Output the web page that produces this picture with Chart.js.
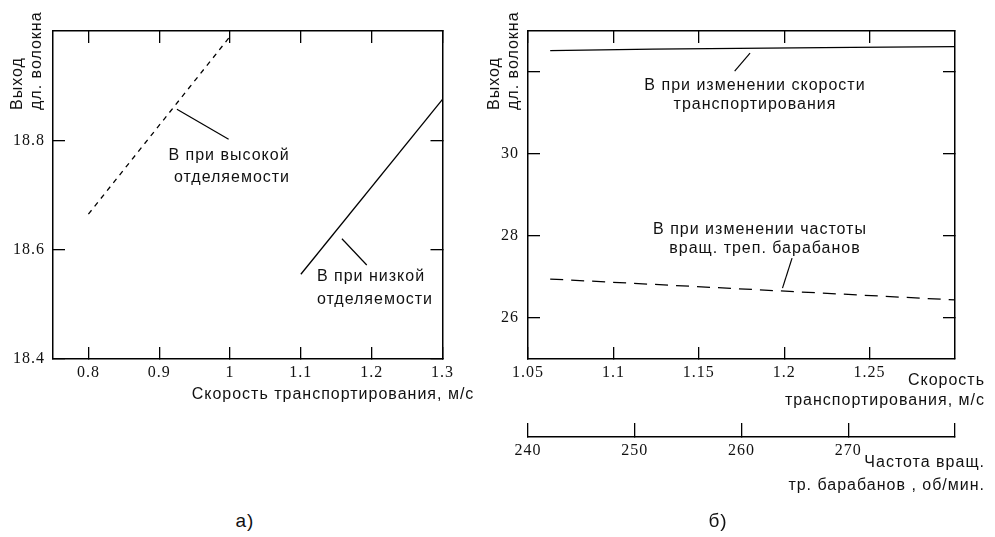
<!DOCTYPE html>
<html>
<head>
<meta charset="utf-8">
<script src="https://cdn.jsdelivr.net/npm/chart.js@4.4.0/dist/chart.umd.min.js"></script>
<style>
  body { margin: 0; background: #fff; }
  #wrap { position: relative; width: 995px; height: 537px; overflow: hidden;
          font-family: "Liberation Sans", Arial, sans-serif; font-size: 16px; color: #111; letter-spacing: 1px; }
  canvas { position: absolute; top: 0; }
  .t { position: absolute; white-space: nowrap; transform: translate(-50%, -50%); line-height: 1; }
  .r { position: absolute; white-space: nowrap; transform: translateY(-50%); line-height: 1; }
  .v { position: absolute; white-space: nowrap; transform-origin: 0 0; transform: rotate(-90deg); line-height: 19px; }
</style>
</head>
<body>
<div id="wrap">
  <canvas id="chartA" width="470" height="400" style="left:0"></canvas>
  <canvas id="chartB" width="525" height="537" style="left:470px"></canvas>

  <!-- а) -->
  <div class="v" style="left:7px;top:110px">Выход<br>дл. волокна</div>
  <div class="t" style="left:229px;top:155px">В при высокой</div>
  <div class="t" style="left:232px;top:177px">отделяемости</div>
  <div class="t" style="left:371px;top:276px">В при низкой</div>
  <div class="t" style="left:375px;top:299px">отделяемости</div>
  <div class="t" style="left:333px;top:394px">Скорость транспортирования, м/с</div>
  <div class="t" style="left:245px;top:520px;font-size:19px">а)</div>

  <!-- б) -->
  <div class="v" style="left:484px;top:110px">Выход<br>дл. волокна</div>
  <div class="t" style="left:755px;top:85px">В при изменении скорости</div>
  <div class="t" style="left:755px;top:104px">транспортирования</div>
  <div class="t" style="left:760px;top:229px">В при изменении частоты</div>
  <div class="t" style="left:765px;top:248px">вращ. треп. барабанов</div>
  <div class="r" style="right:10px;top:380px">Скорость</div>
  <div class="r" style="right:10px;top:400px">транспортирования, м/с</div>
  <div class="r" style="right:10px;top:462px">Частота вращ.</div>
  <div class="r" style="right:10px;top:485px">тр. барабанов , об/мин.</div>
  <div class="t" style="left:718px;top:520px;font-size:19px">б)</div>
</div>

<script>
// а) выход длинного волокна от скорости транспортирования
const speedHigh = [0.8, 1.0];
const yieldHigh = [18.665, 18.99];
const speedLow = [1.1, 1.3];
const yieldLow = [18.555, 18.875];
const ticksSpeedA = [0.8, 0.9, 1.0, 1.1, 1.2, 1.3];
const ticksYieldA = [18.4, 18.6, 18.8];

// б) выход от скорости и от частоты вращения барабанов
const speedB = [1.063, 1.123, 1.24, 1.30];
const yieldBySpeed = [32.52, 32.56, 32.6, 32.62];
const speedB2 = [1.063, 1.30];
const yieldByRotation = [26.95, 26.44];
const ticksSpeedB = [1.05, 1.1, 1.15, 1.2, 1.25];
const ticksYieldB = [26, 28, 30, 32];
const ticksRotation = [240, 250, 260, 270, 280];

const serif = { family: '"Liberation Serif", "Times New Roman", serif', size: 16 };

function pts(xs, ys) {
    return xs.map((x, i) => ({x: x, y: ys[i]}));
}

function axis(position, min, max, tickVals, o) {
    return {
        type: 'linear',
        axis: (position === 'top' || position === 'bottom') ? 'x' : 'y',
        position: position,
        min: min,
        max: max,
        weight: o.weight || 0,
        afterBuildTicks: s => { s.ticks = tickVals.map(v => ({value: v})); },
        afterFit: s => {
            if (position === 'top' || position === 'bottom') s.height = o.size;
            else s.width = o.size;
        },
        grid: {drawOnChartArea: false, drawTicks: true, tickLength: o.tick || -12, color: '#000', lineWidth: 1.3},
        border: {display: true, color: '#000', width: 1.5},
        ticks: {
            display: !!o.labels,
            padding: o.pad || 0,
            color: '#111',
            font: serif,
            autoSkip: false,
            maxRotation: 0,
            callback: o.labels || (() => '')
        }
    };
}

// выноски (в координатах данных)
const leaderPlugin = {
    id: 'leaders',
    afterDatasetsDraw(chart, args, opts) {
        const ctx = chart.ctx, sx = chart.scales.x, sy = chart.scales.y;
        ctx.save();
        ctx.strokeStyle = '#000';
        ctx.lineWidth = 1.2;
        (opts.lines || []).forEach(l => {
            ctx.beginPath();
            ctx.moveTo(sx.getPixelForValue(l[0]), sy.getPixelForValue(l[1]));
            ctx.lineTo(sx.getPixelForValue(l[2]), sy.getPixelForValue(l[3]));
            ctx.stroke();
        });
        ctx.restore();
    }
};

function line(data, dash) {
    return {data: data, showLine: true, borderColor: '#000', borderWidth: 1.3,
        borderDash: dash || [], pointRadius: 0, fill: false, tension: 0};
}

new Chart(document.getElementById('chartA'), {
    type: 'scatter',
    data: {
        datasets: [
            line(pts(speedHigh, yieldHigh), [5, 5]),
            line(pts(speedLow, yieldLow))
        ]
    },
    options: {
        responsive: false,
        animation: false,
        devicePixelRatio: 1,
        layout: {padding: {top: 31, left: 0, right: 27, bottom: 0}},
        plugins: {
            legend: {display: false},
            tooltip: {enabled: false},
            leaders: {lines: [[0.925, 18.857, 0.998, 18.802], [1.158, 18.62, 1.193, 18.572]]}
        },
        scales: {
            x: axis('bottom', 0.75, 1.3, ticksSpeedA, {size: 41, pad: 16, labels: v => String(v)}),
            xTop: axis('top', 0.75, 1.3, ticksSpeedA, {size: 0}),
            y: axis('left', 18.4, 19.0, ticksYieldA, {size: 53, pad: 20, labels: v => v.toFixed(1)}),
            yRight: axis('right', 18.4, 19.0, ticksYieldA, {size: 0})
        }
    },
    plugins: [leaderPlugin]
});

new Chart(document.getElementById('chartB'), {
    type: 'scatter',
    data: {
        datasets: [
            line(pts(speedB, yieldBySpeed)),
            line(pts(speedB2, yieldByRotation), [13, 8])
        ]
    },
    options: {
        responsive: false,
        animation: false,
        devicePixelRatio: 1,
        layout: {padding: {top: 31, left: 0, right: 40, bottom: 0}},
        plugins: {
            legend: {display: false},
            tooltip: {enabled: false},
            leaders: {lines: [[1.18, 32.46, 1.171, 32.02], [1.2046, 27.46, 1.199, 26.73]]}
        },
        scales: {
            x: axis('bottom', 1.05, 1.30, ticksSpeedB, {size: 78, pad: 16, weight: 0, labels: v => String(v)}),
            x2: axis('bottom', 240, 280, ticksRotation, {size: 100, pad: 18, weight: 1, tick: -14,
                labels: v => (v === 280 ? '' : String(v))}),
            xTop: axis('top', 1.05, 1.30, ticksSpeedB, {size: 0}),
            y: axis('left', 25, 33, ticksYieldB, {size: 58, pad: 21, labels: v => (v === 32 ? '' : String(v))}),
            yRight: axis('right', 25, 33, ticksYieldB, {size: 0})
        }
    },
    plugins: [leaderPlugin]
});
</script>
</body>
</html>
